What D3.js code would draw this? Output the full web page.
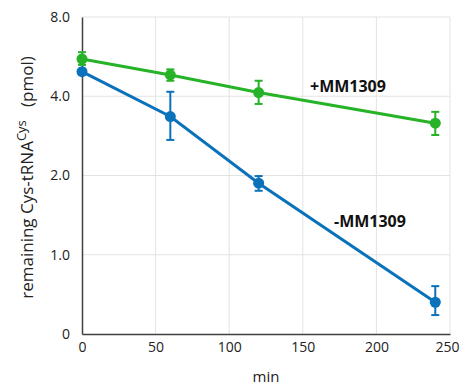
<!DOCTYPE html>
<html>
<head>
<meta charset="utf-8">
<script src="https://cdn.jsdelivr.net/npm/d3@7"></script>
<style>
  body { margin: 0; background: #fff; }
  text { font-family: "Open Sans", "Liberation Sans", sans-serif; }
</style>
</head>
<body>
<div id="chart"></div>
<script>
// data
const times = [0, 60, 120, 240];
const plusMM = [5.54, 4.82, 4.13, 3.16];
const plusErrLo = [5.26, 4.58, 3.74, 2.85];
const plusErrHi = [5.88, 5.06, 4.58, 3.49];
const minusMM = [4.96, 3.35, 1.87, 0.66];
const minusErrLo = [4.82, 2.73, 1.75, 0.59];
const minusErrHi = [5.06, 4.16, 1.99, 0.76];
const xTicks = [0, 50, 100, 150, 200, 250];
const yTicks = [0.5, 1, 2, 4, 8];
const yTickLabels = ["0", "1.0", "2.0", "4.0", "8.0"];

const width = 461, height = 386;
const margin = { top: 17, right: 11, bottom: 52, left: 82 };

const svg = d3.select("#chart").append("svg")
  .attr("width", width).attr("height", height);

const x = d3.scaleLinear().domain([0, 250]).range([margin.left, width - margin.right]);
const y = d3.scaleLog().base(2).domain([0.5, 8]).range([height - margin.bottom, margin.top]);

// grid
svg.append("g").selectAll("line.gx").data(xTicks.slice(1)).join("line")
  .attr("x1", d => x(d)).attr("x2", d => x(d))
  .attr("y1", y(0.5)).attr("y2", y(8))
  .attr("stroke", "#e3e3e3").attr("stroke-width", 1);
svg.append("g").selectAll("line.gy").data(yTicks.slice(1)).join("line")
  .attr("x1", x(0)).attr("x2", x(250))
  .attr("y1", d => y(d)).attr("y2", d => y(d))
  .attr("stroke", "#e3e3e3").attr("stroke-width", 1);

// axes
const xAxis = svg.append("g")
  .attr("transform", `translate(0,${y(0.5)})`)
  .call(d3.axisBottom(x).tickValues(xTicks).tickSize(0).tickPadding(8));
const yAxis = svg.append("g")
  .attr("transform", `translate(${x(0)},0)`)
  .call(d3.axisLeft(y).tickValues(yTicks).tickSize(0).tickPadding(12)
    .tickFormat((d, i) => yTickLabels[i]));
[xAxis, yAxis].forEach(a => {
  a.select(".domain").attr("stroke", "#404040").attr("stroke-width", 1.5);
  a.selectAll("text").attr("font-size", 14).attr("fill", "#222");
});
// last x label sits right at the edge
xAxis.selectAll(".tick text").filter(d => d === 250).attr("dx", -3);

// axis titles
svg.append("text")
  .attr("x", x(125)).attr("y", 382)
  .attr("text-anchor", "middle").attr("font-size", 15).attr("fill", "#222")
  .text("min");

const yt = svg.append("text")
  .attr("transform", `translate(33,${(y(0.5) + y(8)) / 2 + 2}) rotate(-90)`)
  .attr("text-anchor", "middle").attr("font-size", 17).attr("fill", "#222");
yt.append("tspan").text("remaining Cys-tRNA");
yt.append("tspan").attr("font-size", 13).attr("dy", -7).text("Cys");
yt.append("tspan").attr("dy", 7).text("\u00a0\u00a0\u00a0(pmol)");

// series
const series = [
  { vals: minusMM, lo: minusErrLo, hi: minusErrHi, color: "#0a72bb" },
  { vals: plusMM, lo: plusErrLo, hi: plusErrHi, color: "#27b327" }
];

const line = d3.line().x((d, i) => x(times[i])).y(d => y(d));

series.forEach(s => {
  const g = svg.append("g");
  g.append("path").datum(s.vals)
    .attr("d", line).attr("fill", "none")
    .attr("stroke", s.color).attr("stroke-width", 3);
  const eb = g.selectAll("g.err").data(times).join("g");
  eb.append("line")
    .attr("x1", d => x(d)).attr("x2", d => x(d))
    .attr("y1", (d, i) => y(s.lo[i])).attr("y2", (d, i) => y(s.hi[i]))
    .attr("stroke", s.color).attr("stroke-width", 2);
  [s.lo, s.hi].forEach(arr => {
    eb.append("line")
      .attr("x1", d => x(d) - 4).attr("x2", d => x(d) + 4)
      .attr("y1", (d, i) => y(arr[i])).attr("y2", (d, i) => y(arr[i]))
      .attr("stroke", s.color).attr("stroke-width", 2);
  });
  g.selectAll("circle").data(s.vals).join("circle")
    .attr("cx", (d, i) => x(times[i])).attr("cy", d => y(d))
    .attr("r", 5.5).attr("fill", s.color);
});

// labels
svg.append("text").attr("x", 310).attr("y", 92)
  .attr("font-size", 16).attr("font-weight", "bold").attr("fill", "#111")
  .text("+MM1309");
svg.append("text").attr("x", 334).attr("y", 227)
  .attr("font-size", 16).attr("font-weight", "bold").attr("fill", "#111")
  .text("-MM1309");
</script>
</body>
</html>
